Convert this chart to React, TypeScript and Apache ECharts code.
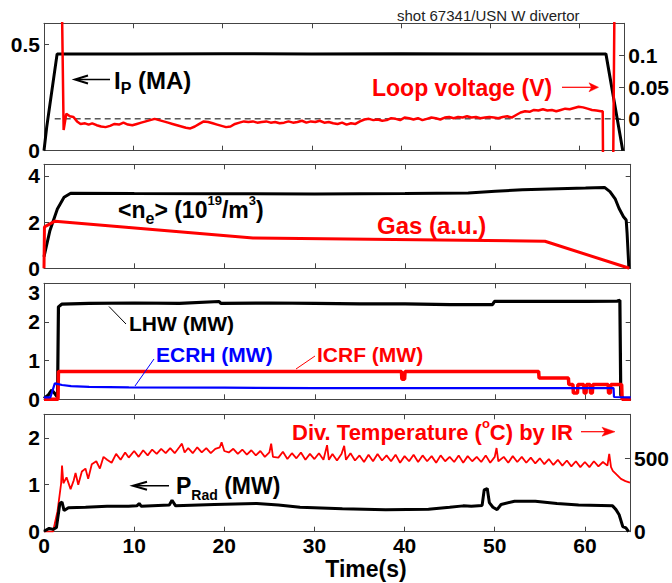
import React, { useEffect, useRef } from 'react';
import * as echarts from 'echarts';

const F = '"Liberation Sans", Arial, sans-serif';

// ---------- Panel 1 ----------
const ipT = [0, 0.3, 1.47, 10, 20, 30, 40, 50, 62.96, 64.85];
const ipV = [0, 0.11, 0.456, 0.456, 0.457, 0.456, 0.457, 0.456, 0.456, 0];

const lvT = [1.7, 2.2, 2.5, 2.9, 3.3, 3.7, 4.1, 4.6, 5.0, 5.4, 5.9, 6.4, 6.9, 7.4, 7.9, 8.4, 8.9, 9.4, 9.9, 10.4, 10.9, 11.4, 11.9, 12.4, 12.9, 13.4, 13.9, 14.4, 14.9, 15.4, 15.9, 16.4, 16.9, 17.4, 17.9, 18.4, 18.9, 19.4, 19.9, 20.4, 20.9, 21.4, 21.9, 22.4, 22.9, 23.4, 23.9, 24.4, 24.9, 25.4, 25.9, 26.4, 26.9, 27.4, 27.9, 28.4, 28.9, 29.4, 29.9, 30.4, 30.9, 31.4, 31.9, 32.4, 32.9, 33.4, 33.9, 34.4, 34.9, 35.4, 35.9, 36.4, 36.9, 37.4, 37.9, 38.4, 38.9, 39.4, 39.9, 40.4, 40.9, 41.4, 41.9, 42.4, 42.9, 43.4, 43.9, 44.4, 44.9, 45.4, 45.9, 46.4, 46.9, 47.4, 47.9, 48.4, 48.9, 49.4, 49.9, 50.4, 50.9, 51.4, 51.9, 52.4, 52.9, 53.4, 53.9, 54.4, 54.9, 55.4, 55.9, 56.4, 56.9, 57.4, 57.9, 58.4, 58.9, 59.4, 59.9, 60.4, 60.9, 61.4, 61.9, 62.4, 62.6, 62.7, 63.7, 64.1];
const lvV = [0.5, -0.0175, 0.008, 0.004, 0.003, -0.004, -0.008, -0.007, -0.009, -0.007, -0.010, -0.012, -0.013, -0.011, -0.008, -0.009, -0.006, -0.009, -0.010, -0.008, -0.006, -0.004, -0.002, 0.000, -0.002, -0.004, -0.006, -0.008, -0.010, -0.012, -0.014, -0.015, -0.012, -0.008, -0.004, -0.005, -0.007, -0.009, -0.011, -0.013, -0.012, -0.008, -0.006, -0.004, -0.005, -0.004, -0.006, -0.005, -0.004, -0.006, -0.005, -0.007, -0.006, -0.004, -0.006, -0.005, -0.003, -0.006, -0.004, -0.005, -0.003, -0.006, -0.005, -0.007, -0.008, -0.006, -0.009, -0.007, -0.008, -0.004, -0.001, 0.000, -0.002, -0.001, -0.003, -0.002, 0.001, 0.000, -0.002, 0.002, 0.001, -0.001, 0.001, -0.002, 0.000, 0.002, 0.001, -0.001, 0.002, 0.003, 0.001, 0.003, 0.002, 0.004, 0.002, 0.003, 0.001, 0.002, 0.003, 0.002, 0.001, 0.003, 0.004, 0.002, 0.006, 0.010, 0.012, 0.011, 0.014, 0.013, 0.015, 0.013, 0.014, 0.012, 0.014, 0.016, 0.015, 0.017, 0.019, 0.018, 0.016, 0.014, 0.013, 0.012, 0.012, -0.2, -0.2, 0.5];

const zeroT = [1.2, 65];
const zeroV = [0, 0];

// ---------- Panel 2 ----------
const neT = [0, 0.66, 1.48, 2.22, 2.96, 10, 20, 30, 40, 47, 50, 53, 57, 60, 62.1, 62.7, 63.3, 63.7, 64.2, 64.5, 64.6, 64.8];
const neV = [0.5, 1.64, 2.57, 3.07, 3.25, 3.24, 3.23, 3.22, 3.24, 3.26, 3.33, 3.4, 3.44, 3.47, 3.5, 3.32, 2.99, 2.6, 2.23, 2.09, 1.52, 0];

const gasT = [0, 0.05, 1.22, 23.15, 55.5, 64.85];
const gasV = [0, 1.79, 2.04, 1.31, 1.17, 0];

// ---------- Panel 3 ----------
const lhwT = [0, 0.48, 0.85, 1.2, 1.5, 1.6, 1.96, 5, 10, 15, 19.4, 19.6, 25, 30, 35, 40, 45, 49.7, 49.9, 55, 60, 63.5, 63.8, 63.9, 64.2, 65];
const lhwV = [0.02, 0.11, 0.24, 0.15, 0.05, 2.39, 2.46, 2.48, 2.49, 2.48, 2.53, 2.48, 2.49, 2.48, 2.47, 2.47, 2.45, 2.45, 2.53, 2.53, 2.53, 2.54, 2.56, 0.11, 0, 0];

const icrfT = [0, 1.55, 1.6, 10, 20, 30, 39.6, 39.65, 39.95, 40.0, 50, 54.8, 54.85, 58.1, 58.15, 58.6, 58.65, 59.1, 59.15, 59.8, 59.85, 60.05, 60.1, 60.5, 60.55, 60.75, 60.8, 62.5, 62.55, 62.75, 62.8, 64.0, 64.05, 65];
const icrfV = [0, 0, 0.72, 0.72, 0.72, 0.72, 0.72, 0.52, 0.52, 0.72, 0.72, 0.72, 0.55, 0.55, 0.38, 0.38, 0.16, 0.16, 0.38, 0.38, 0.16, 0.16, 0.38, 0.38, 0.16, 0.16, 0.38, 0.38, 0.16, 0.16, 0.38, 0.38, 0, 0];

const ecrhT = [0, 0.7, 1.2, 2.0, 3, 5, 9.4, 20, 30, 40, 50, 60, 63.1, 63.15, 65];
const ecrhV = [0.05, 0.05, 0.41, 0.37, 0.34, 0.32, 0.31, 0.3, 0.29, 0.29, 0.29, 0.29, 0.29, 0.06, 0.05];

// ---------- Panel 4 ----------
const pradT = [0, 0.57, 1.05, 1.38, 1.76, 2.0, 2.23, 2.71, 4.61, 6.99, 9.37, 10.3, 10.56, 10.8, 13.9, 14.2, 14.6, 18.9, 23.6, 26.0, 28.4, 33.1, 37.9, 42.65, 45.0, 46.5, 47.4, 48.6, 48.83, 49.17, 49.4, 49.8, 50.26, 50.7, 52.2, 54.5, 56.9, 59.3, 63.07, 63.45, 63.8, 64.2, 64.55, 64.85];
const pradV = [0.01, 0.07, 0.05, 0.09, 0.6, 0.63, 0.45, 0.51, 0.52, 0.54, 0.54, 0.55, 0.6, 0.54, 0.57, 0.67, 0.55, 0.58, 0.6, 0.57, 0.52, 0.49, 0.47, 0.48, 0.52, 0.55, 0.54, 0.56, 0.89, 0.92, 0.62, 0.52, 0.47, 0.58, 0.65, 0.65, 0.6, 0.57, 0.55, 0.47, 0.36, 0.11, 0.08, 0];

const tempT = [0, 1.0, 1.5, 1.9, 2.0, 2.15, 2.5, 2.95, 3.3, 3.5, 3.8, 4.2, 4.6, 4.9, 5.3, 5.8, 6.2, 6.6, 7.0, 7.5, 8.0, 8.5, 9.0, 9.4, 10, 10.5, 11, 11.5, 12, 12.5, 13, 13.5, 14, 14.5, 15, 15.3, 15.6, 16, 16.5, 17, 17.5, 18, 18.5, 19, 19.5, 19.7, 20, 20.5, 21, 21.5, 22, 22.5, 23, 23.5, 24, 24.5, 25, 25.2, 25.4, 26, 26.5, 27, 27.5, 28, 28.5, 29, 29.5, 30, 30.5, 31, 31.4, 31.6, 32, 32.5, 33, 33.3, 33.5, 34, 34.5, 35, 35.5, 36, 36.5, 37, 37.5, 38, 38.5, 39, 39.5, 40, 40.5, 41, 41.5, 42, 42.5, 43, 43.5, 44, 44.5, 45, 45.5, 46, 46.5, 47, 47.5, 48, 48.5, 49, 49.5, 50, 50.2, 50.4, 51, 51.5, 52, 52.5, 53, 53.5, 54, 54.5, 55, 55.5, 56, 56.5, 57, 57.5, 58, 58.5, 59, 59.5, 60, 60.5, 61, 61.5, 62, 62.5, 62.7, 62.9, 63.1, 63.5, 64, 64.5, 65];
const tempV = [0, 0, 140, 330, 450, 330, 370, 290, 350, 400, 320, 410, 430, 360, 460, 480, 430, 510, 490, 470, 530, 490, 540, 505, 550, 510, 555, 520, 560, 530, 565, 535, 570, 535, 575, 600, 540, 570, 535, 575, 540, 570, 535, 565, 575, 610, 550, 540, 565, 530, 560, 525, 555, 520, 550, 510, 540, 600, 510, 505, 545, 495, 535, 500, 540, 490, 530, 495, 535, 490, 590, 490, 530, 485, 530, 585, 490, 535, 485, 520, 475, 525, 480, 530, 485, 520, 480, 525, 470, 515, 480, 525, 475, 520, 480, 515, 470, 520, 480, 510, 475, 520, 470, 515, 480, 510, 475, 520, 470, 510, 570, 480, 510, 470, 515, 475, 510, 470, 505, 465, 500, 460, 495, 455, 490, 450, 485, 445, 480, 440, 475, 440, 480, 445, 475, 450, 530, 440, 415, 390, 360, 345, 335];

// ---------- Axes ----------
const X_LABELS = [0, 10, 20, 30, 40, 50, 60];
const yLeftMin = [0, 0, 0, 0];
const yLeftMax = [0.6, 4.5, 3, 2.5];
const yLeftStep = [0.5, 2, 1, 1];
const yLeftLabels = [[0, 0.5], [0, 2, 4], [0, 1, 2, 3], [0, 1, 2]];
const yRightMin = [-0.05, 0, 0, 0];
const yRightMax = [0.15, 4.5, 3, 800];
const yRightStep = [0.05, 2, 1, 500];
const yRightLabels = [[0, 0.05, 0.1], [], [], [0, 500]];

const gridTop = [23.3, 164.3, 283.3, 414.3];
const gridHeight = [127.4, 104, 116, 117.4];

const zip = (t: number[], v: number[]) => t.map((x, i) => [x, v[i]]);
const inList = (list: number[], v: number) => list.some((l) => Math.abs(l - v) < 1e-9);
const fmt = (v: number) => String(Math.round(v * 100) / 100);

const axisLineStyle = { color: '#444', width: 1 };
const labelStyle = { fontFamily: F, fontWeight: 'bold' as const, fontSize: 21, color: '#000', lineHeight: 18 };

export default function App() {
  const ref = useRef<HTMLDivElement>(null);
  useEffect(() => {
    if (!ref.current) return;
    const chart = echarts.init(ref.current, null, { renderer: 'svg' });

    const grid = gridTop.map((top, i) => ({ left: 44, width: 586.7, top, height: gridHeight[i] }));
    const xAxis: any[] = [];
    const yAxis: any[] = [];
    for (let g = 0; g < 4; g++) {
      for (const pos of ['bottom', 'top']) {
        xAxis.push({
          type: 'value', gridIndex: g, position: pos, min: 0, max: 65, interval: 10,
          axisLine: { show: true, onZero: false, lineStyle: axisLineStyle },
          axisTick: { show: true, inside: true, length: 5, lineStyle: axisLineStyle },
          axisLabel: {
            show: g === 3 && pos === 'bottom', margin: 5, ...labelStyle,
            formatter: (v: number) => (inList(X_LABELS, v) ? String(v) : ''),
          },
          splitLine: { show: false },
        });
      }
      const gg = g;
      yAxis.push({
        type: 'value', gridIndex: g, position: 'left', min: yLeftMin[g], max: yLeftMax[g], interval: yLeftStep[g],
        axisLine: { show: true, onZero: false, lineStyle: axisLineStyle },
        axisTick: { show: true, inside: true, length: 5, lineStyle: axisLineStyle },
        axisLabel: {
          margin: 4, ...labelStyle,
          ...(gg === 2 ? { verticalAlignMaxLabel: 'top' } : {}),
          formatter: (v: number) => (inList(yLeftLabels[gg], v) ? fmt(v) : ''),
        },
        splitLine: { show: false },
      });
      yAxis.push({
        type: 'value', gridIndex: g, position: 'right', min: yRightMin[g], max: yRightMax[g], interval: yRightStep[g],
        axisLine: { show: true, onZero: false, lineStyle: axisLineStyle },
        axisTick: { show: true, inside: true, length: 5, lineStyle: axisLineStyle },
        axisLabel: { show: yRightLabels[g].length > 0, margin: 4, ...labelStyle, formatter: (v: number) => (inList(yRightLabels[gg], v) ? fmt(v) : '') },
        splitLine: { show: false },
      });
    }

    const line = (data: number[][], g: number, right: boolean, color: string, width: number, extra: any = {}) => ({
      type: 'line', xAxisIndex: 2 * g, yAxisIndex: 2 * g + (right ? 1 : 0), data, showSymbol: false, symbol: 'none',
      lineStyle: { color, width, ...(extra.lineStyle || {}) }, clip: true, silent: true, z: extra.z || 2,
    });

    const series = [
      line(zip(ipT, ipV), 0, false, '#000', 3),
      line(zip(zeroT, zeroV), 0, true, '#000', 1, { lineStyle: { type: [6, 4] } }),
      line(zip(lvT, lvV), 0, true, '#ff0000', 2.5, { z: 3 }),
      line(zip(neT, neV), 1, false, '#000', 3),
      line(zip(gasT, gasV), 1, false, '#ff0000', 3, { z: 3 }),
      line(zip(lhwT, lhwV), 2, false, '#000', 3.2),
      line(zip(icrfT, icrfV), 2, false, '#ff0000', 3.5),
      line(zip(ecrhT, ecrhV), 2, false, '#0000ff', 2.2, { z: 3 }),
      line(zip(tempT, tempV), 3, true, '#ff0000', 1.8),
      line(zip(pradT, pradV), 3, false, '#000', 3, { z: 3 }),
    ];

    const tok = (size: number, color: string, extra: any = {}) => ({ fontSize: size, fontWeight: 'bold', fontFamily: F, fill: color, ...extra });
    const rtext = (x: number, y: number, text: string, rich: any) => ({
      type: 'text', x, y, silent: true, z: 10,
      style: { text, rich, verticalAlign: 'middle', align: 'left' },
    });
    const seg = (x1: number, y1: number, x2: number, y2: number, color: string, w = 1.5) => ({
      type: 'line', silent: true, z: 10, shape: { x1, y1, x2, y2 }, style: { stroke: color, lineWidth: w },
    });

    const graphic: any[] = [
      { type: 'text', x: 397, y: 15, silent: true, style: { text: 'shot 67341/USN W divertor', font: `15px ${F}`, fill: '#222', verticalAlign: 'middle' } },
      // Ip
      seg(76, 79.5, 110, 79.5, '#000', 1.5),
      { type: 'polyline', silent: true, z: 10, shape: { points: [[88, 75.5], [75, 79.5], [88, 83.5]] }, style: { stroke: '#000', lineWidth: 2, fill: 'none' } },
      rtext(114, 80, '{m|I}{s|P}{m| (MA)}', { m: tok(24, '#000', { lineHeight: 32 }), s: tok(16, '#000', { lineHeight: 16, verticalAlign: 'bottom' }) }),
      // Loop voltage
      rtext(372, 88, '{m|Loop voltage (V)}', { m: tok(23, '#ff0000') }),
      seg(562, 87.3, 594, 87.3, '#ff0000', 1.2),
      { type: 'polygon', silent: true, z: 10, shape: { points: [[598.5, 87.3], [589, 82.8], [591.5, 87.3], [589, 91.8]] }, style: { fill: '#ff0000', stroke: '#ff0000', lineWidth: 0.5 } },
      // ne
      rtext(118, 210, '{m|<n}{s|e}{m|> (10}{p|19}{m|/m}{p|3}{m|)}', {
        m: tok(23, '#000', { lineHeight: 32 }),
        s: tok(16, '#000', { lineHeight: 16, verticalAlign: 'bottom' }),
        p: tok(13, '#000', { lineHeight: 13, verticalAlign: 'top' }),
      }),
      rtext(377, 225, '{m|Gas (a.u.)}', { m: tok(24, '#ff0000') }),
      // panel 3
      rtext(129, 323, '{m|LHW (MW)}', { m: tok(21, '#000') }),
      seg(109, 306.5, 126, 324, '#000', 1),
      rtext(156, 354, '{m|ECRH (MW)}', { m: tok(21, '#0000ff') }),
      seg(154, 359, 135, 386, '#0000ff', 1),
      rtext(317, 354, '{m|ICRF (MW)}', { m: tok(21, '#ff0000') }),
      seg(315, 356, 296, 369, '#ff0000', 1),
      // panel 4
      rtext(292, 432, '{m|Div. Temperature (}{p|o}{m|C) by IR}', {
        m: tok(22, '#ff0000', { lineHeight: 30 }),
        p: tok(13, '#ff0000', { lineHeight: 13, verticalAlign: 'top' }),
      }),
      seg(581, 431.7, 611, 431.7, '#ff0000', 1.2),
      { type: 'polygon', silent: true, z: 10, shape: { points: [[615, 431.7], [602, 427.2], [605, 431.7], [602, 436.2]] }, style: { fill: '#ff0000', stroke: '#ff0000', lineWidth: 0.5 } },
      seg(134, 485.7, 169, 485.7, '#000', 1.5),
      { type: 'polyline', silent: true, z: 10, shape: { points: [[147, 481.7], [133, 485.7], [147, 489.7]] }, style: { stroke: '#000', lineWidth: 2, fill: 'none' } },
      rtext(176, 486, '{m|P}{s|Rad}{m| (MW)}', { m: tok(23, '#000', { lineHeight: 32 }), s: tok(14, '#000', { lineHeight: 14, verticalAlign: 'bottom' }) }),
      // x axis name
      { type: 'text', x: 366, y: 569, silent: true, style: { text: 'Time(s)', font: `bold 23px ${F}`, fill: '#000', align: 'center', verticalAlign: 'middle' } },
    ];

    chart.setOption({ animation: false, backgroundColor: '#fff', grid, xAxis, yAxis, series, graphic });
    return () => chart.dispose();
  }, []);
  return <div ref={ref} style={{ position: 'absolute', left: 0, top: 0, width: 672, height: 583 }} />;
}
